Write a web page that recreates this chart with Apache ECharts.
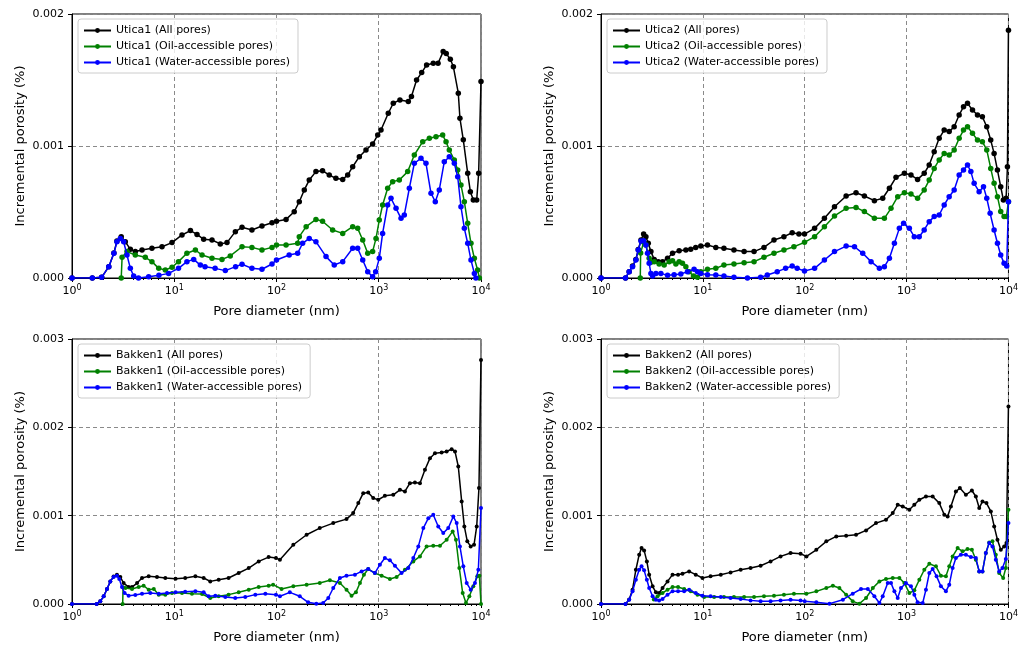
<!DOCTYPE html>
<html>
<head>
<meta charset="utf-8">
<script src="https://cdn.jsdelivr.net/npm/echarts@6/dist/echarts.min.js"></script>
<style>
  html, body { margin: 0; padding: 0; background: #fff; }
  #main { width: 1021px; height: 649px; }
</style>
</head>
<body>
<div id="main"></div>
<script>
// tick values
const decadeTicks = [1, 10, 100, 1000, 10000];
const minorTicks = [2, 3, 4, 5, 6, 7, 8, 9, 20, 30, 40, 50, 60, 70, 80, 90,
  200, 300, 400, 500, 600, 700, 800, 900, 2000, 3000, 4000, 5000, 6000, 7000, 8000, 9000];

// [pore diameter (nm), incremental porosity (%)]
const utica1All = [[1,0],[1.58,0],[1.95,.005e-3],[2.29,.086e-3],[2.57,.19e-3],[2.75,.28e-3],[3.03,.313e-3],[3.32,.275e-3],[3.72,.217e-3],[4.16,.2e-3],[4.84,.212e-3],[6.05,.225e-3],[7.59,.237e-3],[9.51,.268e-3],[11.9,.326e-3],[14.4,.359e-3],[16.7,.33e-3],[19.4,.293e-3],[23.4,.288e-3],[28.2,.258e-3],[32.8,.268e-3],[39.6,.351e-3],[46,.384e-3],[57.5,.364e-3],[72.1,.394e-3],[90.4,.419e-3],[100,.43e-3],[124,.444e-3],[149,.502e-3],[167,.578e-3],[187,.667e-3],[209,.742e-3],[243,.806e-3],[282,.813e-3],[328,.78e-3],[381,.755e-3],[444,.747e-3],[497,.78e-3],[556,.843e-3],[646,.919e-3],[750,.97e-3],[871,1.015e-3],[977,1.083e-3],[1052,1.121e-3],[1239,1.248e-3],[1387,1.324e-3],[1611,1.349e-3],[1945,1.337e-3],[2089,1.375e-3],[2344,1.5e-3],[2630,1.556e-3],[2938,1.614e-3],[3412,1.627e-3],[3802,1.627e-3],[4266,1.715e-3],[4571,1.7e-3],[5012,1.657e-3],[5370,1.6e-3],[5998,1.4e-3],[6223,1.21e-3],[6714,1.047e-3],[7413,.793e-3],[7870,.654e-3],[8414,.591e-3],[9078,.591e-3],[9484,.793e-3],[10000,1.488e-3]];
const utica1Oil = [[3.03,0],[3.09,.157e-3],[3.45,.2e-3],[4.16,.174e-3],[5.21,.157e-3],[6.05,.124e-3],[7.05,.073e-3],[8.18,.061e-3],[9.51,.081e-3],[11.0,.124e-3],[13.3,.187e-3],[16.1,.212e-3],[18.7,.174e-3],[23.4,.149e-3],[29.3,.141e-3],[35.3,.167e-3],[46,.237e-3],[57.5,.232e-3],[72.1,.212e-3],[90.4,.232e-3],[100,.25e-3],[124,.25e-3],[161,.263e-3],[167,.313e-3],[195,.389e-3],[243,.444e-3],[282,.43e-3],[354,.364e-3],[444,.338e-3],[556,.389e-3],[622,.376e-3],[697,.288e-3],[780,.187e-3],[871,.2e-3],[940,.3e-3],[1012,.439e-3],[1091,.553e-3],[1222,.68e-3],[1368,.73e-3],[1589,.742e-3],[1919,.806e-3],[2228,.932e-3],[2692,1.033e-3],[3126,1.058e-3],[3631,1.07e-3],[4217,1.083e-3],[4550,1.033e-3],[4898,.97e-3],[5483,.894e-3],[5916,.818e-3],[6368,.705e-3],[6871,.578e-3],[7413,.414e-3],[7980,.263e-3],[8610,.149e-3],[9268,.061e-3],[9638,0]];
const utica1Water = [[1,0],[1.58,0],[1.95,.005e-3],[2.29,.086e-3],[2.57,.187e-3],[2.75,.275e-3],[2.97,.3e-3],[3.2,.275e-3],[3.45,.174e-3],[3.72,.073e-3],[4.01,.015e-3],[4.47,0],[5.62,.01e-3],[7.08,.02e-3],[8.81,.035e-3],[11.0,.073e-3],[13.3,.124e-3],[15.5,.141e-3],[18.0,.098e-3],[20,.086e-3],[25.1,.073e-3],[31.6,.056e-3],[39.8,.086e-3],[46,.104e-3],[57.5,.073e-3],[72.1,.066e-3],[90.4,.106e-3],[100,.136e-3],[133,.174e-3],[161,.187e-3],[180,.263e-3],[209,.3e-3],[243,.275e-3],[305,.162e-3],[367,.098e-3],[444,.124e-3],[556,.225e-3],[622,.225e-3],[697,.136e-3],[780,.048e-3],[871,.01e-3],[933,.048e-3],[1012,.149e-3],[1091,.338e-3],[1222,.553e-3],[1318,.604e-3],[1476,.528e-3],[1652,.452e-3],[1778,.478e-3],[1991,.68e-3],[2228,.869e-3],[2588,.907e-3],[2897,.869e-3],[3243,.642e-3],[3573,.578e-3],[3908,.667e-3],[4375,.881e-3],[4898,.919e-3],[5483,.869e-3],[5916,.767e-3],[6368,.54e-3],[6871,.376e-3],[7413,.263e-3],[7980,.136e-3],[8610,.035e-3],[8913,0]];

const utica2All = [[1,0],[1.74,0],[1.89,.048e-3],[2.04,.09e-3],[2.2,.14e-3],[2.32,.215e-3],[2.47,.288e-3],[2.62,.333e-3],[2.76,.313e-3],[2.91,.263e-3],[3.09,.2e-3],[3.33,.141e-3],[3.65,.124e-3],[4.02,.124e-3],[4.5,.149e-3],[5.04,.187e-3],[5.85,.207e-3],[6.81,.212e-3],[7.6,.217e-3],[8.51,.232e-3],[9.55,.242e-3],[11.1,.25e-3],[13.4,.232e-3],[16.1,.225e-3],[20.2,.212e-3],[25.4,.2e-3],[31.8,.2e-3],[39.8,.232e-3],[49.9,.288e-3],[62.5,.313e-3],[75.3,.343e-3],[87.7,.333e-3],[99.5,.333e-3],[125,.376e-3],[156,.452e-3],[196,.54e-3],[255,.621e-3],[319,.646e-3],[385,.621e-3],[483,.586e-3],[583,.604e-3],[678,.68e-3],[787,.763e-3],[951,.793e-3],[1104,.78e-3],[1282,.747e-3],[1489,.793e-3],[1667,.856e-3],[1866,.957e-3],[2089,1.058e-3],[2339,1.121e-3],[2618,1.109e-3],[2931,1.146e-3],[3281,1.235e-3],[3622,1.298e-3],[3963,1.323e-3],[4436,1.273e-3],[4966,1.235e-3],[5546,1.222e-3],[6124,1.146e-3],[6699,1.045e-3],[7228,.944e-3],[7798,.818e-3],[8395,.692e-3],[8913,.591e-3],[9484,.604e-3],[9772,.843e-3],[10000,1.877e-3]];
const utica2Oil = [[2.43,0],[2.45,.19e-3],[2.62,.27e-3],[2.76,.25e-3],[2.97,.15e-3],[3.09,.12e-3],[3.33,.124e-3],[3.72,.106e-3],[4.17,.098e-3],[4.67,.124e-3],[5.04,.131e-3],[5.43,.106e-3],[5.85,.124e-3],[6.31,.111e-3],[6.81,.086e-3],[7.33,.048e-3],[8.09,.015e-3],[8.85,.005e-3],[9.55,.048e-3],[11.1,.066e-3],[13.4,.073e-3],[16.1,.098e-3],[20.2,.106e-3],[25.4,.116e-3],[31.8,.124e-3],[39.8,.157e-3],[49.9,.187e-3],[62.5,.212e-3],[78.3,.237e-3],[99.5,.27e-3],[125,.313e-3],[156,.389e-3],[196,.47e-3],[255,.528e-3],[319,.535e-3],[385,.503e-3],[483,.452e-3],[605,.452e-3],[703,.528e-3],[818,.616e-3],[951,.646e-3],[1104,.636e-3],[1282,.604e-3],[1489,.667e-3],[1667,.742e-3],[1866,.83e-3],[2089,.894e-3],[2339,.944e-3],[2618,.932e-3],[2931,.97e-3],[3281,1.058e-3],[3622,1.121e-3],[3963,1.146e-3],[4436,1.096e-3],[4966,1.045e-3],[5546,1.033e-3],[6124,.97e-3],[6699,.83e-3],[7228,.717e-3],[7798,.616e-3],[8395,.503e-3],[9057,.465e-3],[9550,.465e-3],[10000,.578e-3]];
const utica2Water = [[1,0],[1.74,0],[1.89,.048e-3],[2.04,.086e-3],[2.2,.136e-3],[2.32,.212e-3],[2.47,.28e-3],[2.62,.283e-3],[2.76,.25e-3],[2.86,.187e-3],[2.97,.111e-3],[3.09,.035e-3],[3.21,.015e-3],[3.46,.035e-3],[3.87,.035e-3],[4.5,.02e-3],[5.22,.025e-3],[6.08,.03e-3],[7.06,.048e-3],[8.2,.066e-3],[8.85,.048e-3],[9.55,.035e-3],[11.1,.025e-3],[13.4,.023e-3],[16.1,.015e-3],[20.2,.005e-3],[27.4,0],[36.9,.005e-3],[42.9,.023e-3],[53.7,.048e-3],[64.9,.073e-3],[75.3,.091e-3],[84.3,.073e-3],[99.5,.053e-3],[125,.073e-3],[156,.136e-3],[196,.2e-3],[255,.242e-3],[308,.237e-3],[371,.187e-3],[448,.124e-3],[541,.073e-3],[605,.086e-3],[678,.149e-3],[759,.263e-3],[849,.376e-3],[935,.414e-3],[1064,.376e-3],[1189,.313e-3],[1330,.313e-3],[1489,.364e-3],[1667,.427e-3],[1866,.465e-3],[2089,.477e-3],[2339,.553e-3],[2618,.616e-3],[2931,.667e-3],[3281,.78e-3],[3622,.818e-3],[3963,.856e-3],[4276,.806e-3],[4603,.717e-3],[5152,.654e-3],[5689,.692e-3],[6124,.604e-3],[6607,.49e-3],[7228,.364e-3],[7798,.263e-3],[8395,.174e-3],[9057,.111e-3],[9616,.091e-3],[10000,.578e-3]];

const bakken1All = [[1,0],[1.74,0],[1.89,.03e-3],[2.04,.087e-3],[2.2,.17e-3],[2.37,.256e-3],[2.55,.31e-3],[2.75,.332e-3],[2.97,.305e-3],[3.2,.237e-3],[3.58,.192e-3],[3.86,.192e-3],[4.33,.237e-3],[4.84,.294e-3],[5.62,.313e-3],[6.78,.305e-3],[8.18,.294e-3],[10.3,.286e-3],[12.8,.294e-3],[16.1,.313e-3],[19.4,.294e-3],[22.5,.256e-3],[27.2,.275e-3],[34.0,.294e-3],[42.7,.351e-3],[53.5,.407e-3],[67.0,.482e-3],[83.8,.531e-3],[98.8,.52e-3],[108,.501e-3],[146,.671e-3],[197,.784e-3],[265,.859e-3],[359,.916e-3],[484,.961e-3],[562,1.029e-3],[631,1.142e-3],[705,1.255e-3],[789,1.263e-3],[883,1.199e-3],[989,1.18e-3],[1148,1.225e-3],[1387,1.236e-3],[1611,1.293e-3],[1803,1.274e-3],[2018,1.368e-3],[2259,1.376e-3],[2529,1.368e-3],[2831,1.519e-3],[3170,1.651e-3],[3548,1.707e-3],[4121,1.715e-3],[4613,1.726e-3],[5164,1.753e-3],[5572,1.726e-3],[5998,1.557e-3],[6471,1.161e-3],[6871,.878e-3],[7345,.709e-3],[7925,.652e-3],[8551,.671e-3],[9078,.878e-3],[9550,1.312e-3],[10000,2.763e-3]];
const bakken1Oil = [[3.13,0],[3.16,.19e-3],[3.33,.181e-3],[3.86,.17e-3],[4.49,.192e-3],[5.02,.207e-3],[5.62,.162e-3],[6.31,.17e-3],[7.05,.106e-3],[8.18,.106e-3],[9.51,.124e-3],[11.9,.124e-3],[14.9,.117e-3],[18.7,.113e-3],[22.5,.068e-3],[27.2,.087e-3],[34.0,.106e-3],[42.7,.132e-3],[53.5,.162e-3],[67.0,.192e-3],[83.8,.207e-3],[92.7,.219e-3],[112,.17e-3],[146,.2e-3],[197,.219e-3],[265,.237e-3],[333,.268e-3],[417,.237e-3],[484,.162e-3],[542,.094e-3],[598,.132e-3],[655,.237e-3],[716,.332e-3],[789,.396e-3],[916,.35e-3],[1067,.32e-3],[1285,.283e-3],[1496,.305e-3],[1803,.388e-3],[2178,.482e-3],[2529,.539e-3],[2938,.652e-3],[3412,.66e-3],[3972,.66e-3],[4613,.727e-3],[5284,.822e-3],[5689,.727e-3],[6138,.407e-3],[6622,.124e-3],[7129,.011e-3],[7691,.087e-3],[8414,.2e-3],[9204,.313e-3],[9638,.32e-3],[10000,0]];
const bakken1Water = [[1,0],[1.74,0],[1.89,.03e-3],[2.04,.087e-3],[2.2,.17e-3],[2.37,.256e-3],[2.55,.305e-3],[2.75,.32e-3],[2.9,.283e-3],[3.08,.192e-3],[3.27,.124e-3],[3.58,.094e-3],[4.16,.102e-3],[4.84,.117e-3],[5.83,.124e-3],[7.05,.117e-3],[8.49,.124e-3],[10.3,.132e-3],[12.8,.139e-3],[16.1,.143e-3],[19.4,.132e-3],[21.7,.087e-3],[25.2,.094e-3],[31.6,.079e-3],[39.5,.068e-3],[49.5,.079e-3],[62.1,.106e-3],[77.8,.117e-3],[98.8,.106e-3],[108,.087e-3],[135,.132e-3],[169,.087e-3],[204,.019e-3],[245,.004e-3],[286,.011e-3],[321,.068e-3],[359,.181e-3],[417,.294e-3],[484,.32e-3],[585,.332e-3],[679,.369e-3],[789,.396e-3],[916,.35e-3],[1026,.445e-3],[1148,.52e-3],[1285,.494e-3],[1439,.433e-3],[1671,.35e-3],[1945,.407e-3],[2178,.52e-3],[2438,.652e-3],[2729,.859e-3],[3055,.972e-3],[3412,1.01e-3],[3819,.878e-3],[4276,.803e-3],[4786,.859e-3],[5358,.991e-3],[5781,.916e-3],[6223,.652e-3],[6714,.426e-3],[7244,.237e-3],[7925,.162e-3],[8730,.237e-3],[9419,.388e-3],[10000,1.086e-3]];

const bakken2All = [[1,0],[1.74,0],[1.89,.05e-3],[2.04,.162e-3],[2.2,.388e-3],[2.37,.558e-3],[2.5,.633e-3],[2.65,.607e-3],[2.82,.482e-3],[2.97,.332e-3],[3.21,.2e-3],[3.46,.132e-3],[3.72,.124e-3],[4.02,.181e-3],[4.5,.256e-3],[5.04,.332e-3],[5.71,.332e-3],[6.31,.343e-3],[7.33,.369e-3],[8.51,.332e-3],[9.91,.294e-3],[11.9,.313e-3],[15.0,.332e-3],[18.7,.358e-3],[23.5,.388e-3],[29.4,.407e-3],[36.9,.433e-3],[46.2,.482e-3],[57.9,.539e-3],[72.6,.577e-3],[91.0,.569e-3],[104,.539e-3],[130,.614e-3],[163,.709e-3],[204,.765e-3],[255,.773e-3],[319,.784e-3],[400,.833e-3],[501,.916e-3],[628,.954e-3],[731,1.029e-3],[818,1.123e-3],[916,1.104e-3],[1064,1.067e-3],[1191,1.123e-3],[1334,1.18e-3],[1549,1.217e-3],[1803,1.217e-3],[2094,1.142e-3],[2344,1.01e-3],[2529,.991e-3],[2723,1.104e-3],[3048,1.274e-3],[3334,1.312e-3],[3819,1.236e-3],[4375,1.285e-3],[4786,1.217e-3],[5164,1.086e-3],[5559,1.161e-3],[6081,1.142e-3],[6714,1.048e-3],[7244,.878e-3],[7798,.727e-3],[8414,.614e-3],[9078,.652e-3],[9550,.69e-3],[10000,2.235e-3]];
const bakken2Oil = [[3.3,.05e-3],[3.59,.087e-3],[4.02,.124e-3],[4.5,.162e-3],[5.04,.192e-3],[5.71,.192e-3],[6.55,.17e-3],[7.6,.143e-3],[8.85,.106e-3],[10.3,.079e-3],[12.9,.079e-3],[16.1,.079e-3],[20.2,.079e-3],[25.4,.079e-3],[31.8,.079e-3],[39.8,.087e-3],[49.9,.094e-3],[62.5,.106e-3],[78.3,.117e-3],[104,.117e-3],[130,.143e-3],[163,.181e-3],[189,.207e-3],[219,.181e-3],[255,.106e-3],[296,.03e-3],[344,.004e-3],[400,.068e-3],[466,.181e-3],[541,.256e-3],[628,.283e-3],[731,.294e-3],[849,.294e-3],[951,.237e-3],[1064,.124e-3],[1191,.155e-3],[1334,.275e-3],[1493,.388e-3],[1671,.456e-3],[1941,.426e-3],[2173,.32e-3],[2432,.313e-3],[2624,.426e-3],[2831,.539e-3],[3170,.633e-3],[3548,.596e-3],[3963,.622e-3],[4375,.614e-3],[4786,.501e-3],[5164,.369e-3],[5559,.369e-3],[5998,.577e-3],[6471,.697e-3],[6966,.709e-3],[7516,.558e-3],[8110,.351e-3],[8872,.294e-3],[9419,.407e-3],[10000,1.067e-3]];
const bakken2Water = [[1,0],[1.74,0],[1.89,.049e-3],[2.04,.143e-3],[2.2,.275e-3],[2.37,.388e-3],[2.5,.426e-3],[2.65,.381e-3],[2.82,.275e-3],[2.97,.181e-3],[3.21,.087e-3],[3.46,.049e-3],[3.72,.041e-3],[4.02,.057e-3],[4.5,.106e-3],[5.04,.143e-3],[5.71,.143e-3],[6.55,.143e-3],[7.33,.162e-3],[8.51,.124e-3],[9.91,.094e-3],[11.9,.087e-3],[15.0,.079e-3],[18.7,.068e-3],[23.5,.057e-3],[29.4,.041e-3],[36.9,.03e-3],[46.2,.03e-3],[57.9,.041e-3],[72.6,.049e-3],[91.0,.041e-3],[100,.03e-3],[130,.019e-3],[175,.004e-3],[237,.049e-3],[296,.117e-3],[357,.17e-3],[416,.17e-3],[483,.087e-3],[541,.011e-3],[583,.087e-3],[653,.237e-3],[703,.237e-3],[759,.143e-3],[818,.068e-3],[881,.181e-3],[986,.237e-3],[1104,.2e-3],[1191,.106e-3],[1282,.019e-3],[1439,.011e-3],[1549,.162e-3],[1671,.351e-3],[1803,.396e-3],[1972,.313e-3],[2173,.2e-3],[2432,.143e-3],[2624,.219e-3],[2831,.407e-3],[3048,.52e-3],[3412,.558e-3],[3819,.558e-3],[4276,.531e-3],[4786,.52e-3],[5164,.369e-3],[5559,.369e-3],[5998,.577e-3],[6471,.69e-3],[6966,.652e-3],[7516,.501e-3],[8110,.369e-3],[8730,.407e-3],[9419,.509e-3],[10000,.916e-3]];

const FONT = 'DejaVu Sans';
const colors = { all: '#000000', oil: '#008000', water: '#0000ff' };

// one entry per subplot
const panels = [
  { name: 'Utica1', all: utica1All, oil: utica1Oil, water: utica1Water, yMax: 0.002,
    box: { left: 72, top: 14, width: 409, height: 264 }, sym: 5.5 },
  { name: 'Utica2', all: utica2All, oil: utica2Oil, water: utica2Water, yMax: 0.002,
    box: { left: 601, top: 14, width: 408, height: 264 }, sym: 5.5 },
  { name: 'Bakken1', all: bakken1All, oil: bakken1Oil, water: bakken1Water, yMax: 0.003,
    box: { left: 72, top: 339, width: 409, height: 265 }, sym: 4 },
  { name: 'Bakken2', all: bakken2All, oil: bakken2Oil, water: bakken2Water, yMax: 0.003,
    box: { left: 601, top: 339, width: 408, height: 265 }, sym: 4 }
];

const option = { animation: false, backgroundColor: '#fff', grid: [], xAxis: [], yAxis: [], legend: [], series: [] };

const dashed = { color: '#8a8a8a', width: 1, type: [4, 3] };

// bare log axis on the bottom spine that only draws a set of ticks
function tickAxis(i, values, len) {
  return {
    type: 'log', logBase: 10, gridIndex: i, position: 'bottom', min: 1, max: 10000,
    axisLine: { show: false },
    axisTick: { show: true, length: len, customValues: values, lineStyle: { color: '#000', width: 1 } },
    axisLabel: { show: false }, splitLine: { show: false }
  };
}

panels.forEach(function (p, i) {
  option.grid.push(Object.assign({ show: true, borderColor: '#000', borderWidth: 1, backgroundColor: 'transparent', containLabel: false }, p.box));

  // main log axis: labels, grid lines, title
  option.xAxis.push({
    type: 'log', logBase: 10, gridIndex: i, position: 'bottom', min: 1, max: 10000,
    name: 'Pore diameter (nm)', nameLocation: 'middle', nameGap: 27,
    nameTextStyle: { fontFamily: FONT, fontSize: 13, color: '#000' },
    axisLine: { show: true, onZero: false, lineStyle: { color: '#000', width: 1 } },
    axisTick: { show: false },
    axisLabel: {
      margin: 6, fontFamily: FONT, fontSize: 11, color: '#000', showMinLabel: true, showMaxLabel: true,
      customValues: decadeTicks,
      formatter: function (v) { return '10{sup|' + Math.round(Math.log10(v)) + '}'; },
      rich: { sup: { fontFamily: FONT, fontSize: 8, color: '#000', padding: [0, 0, 7, 0] } }
    },
    splitLine: { show: true, lineStyle: dashed }
  });
  option.xAxis.push(tickAxis(i, decadeTicks, 4));
  option.xAxis.push(tickAxis(i, minorTicks, 2));

  option.yAxis.push({
    type: 'value', gridIndex: i, min: 0, max: p.yMax, interval: 0.001,
    name: 'Incremental porosity (%)', nameLocation: 'middle', nameGap: 45,
    nameTextStyle: { fontFamily: FONT, fontSize: 13, color: '#000' },
    axisLine: { show: true, lineStyle: { color: '#000', width: 1 } },
    axisTick: { show: true, inside: false, length: 4, lineStyle: { color: '#000' } },
    axisLabel: { margin: 8, fontFamily: FONT, fontSize: 11, color: '#000',
      formatter: function (v) { return v.toFixed(3); } },
    splitLine: { show: true, lineStyle: dashed }
  });

  const names = [p.name + ' (All pores)', p.name + ' (Oil-accessible pores)', p.name + ' (Water-accessible pores)'];
  option.legend.push({
    data: names, orient: 'vertical', left: p.box.left + 6, top: p.box.top + 5,
    itemGap: 5, itemWidth: 27, itemHeight: 6,
    padding: [6, 8, 5, 5],
    backgroundColor: 'rgba(255,255,255,0.8)', borderColor: '#cccccc', borderWidth: 1, borderRadius: 3,
    textStyle: { fontFamily: FONT, fontSize: 11, color: '#000' }
  });

  [['all', names[0]], ['oil', names[1]], ['water', names[2]]].forEach(function (s, k) {
    option.series.push({
      type: 'line', name: s[1], xAxisIndex: i * 3, yAxisIndex: i, data: p[s[0]],
      symbol: 'circle', symbolSize: p.sym, showSymbol: true, showAllSymbol: true,
      lineStyle: { color: colors[s[0]], width: 1.5 },
      itemStyle: { color: colors[s[0]] },
      z: 2 + k, clip: true
    });
  });
});

const chart = echarts.init(document.getElementById('main'));
chart.setOption(option);
</script>
</body>
</html>
